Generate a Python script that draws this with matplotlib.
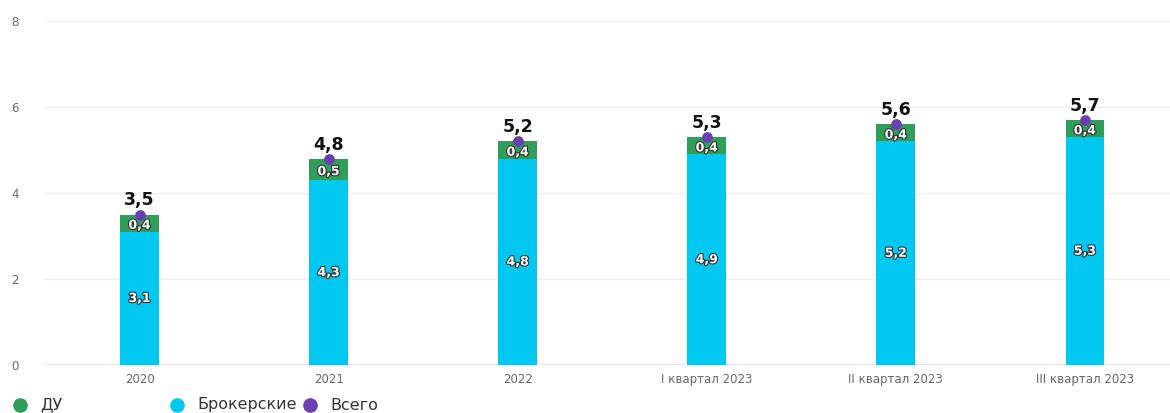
import numpy as np
import matplotlib
matplotlib.use("Agg")
import matplotlib.pyplot as plt
import matplotlib.patheffects as pe
from matplotlib.lines import Line2D

categories = ["2020", "2021", "2022", "I квартал 2023", "II квартал 2023", "III квартал 2023"]
broker = [3.1, 4.3, 4.8, 4.9, 5.2, 5.3]
du = [0.4, 0.5, 0.4, 0.4, 0.4, 0.4]
total = [3.5, 4.8, 5.2, 5.3, 5.6, 5.7]

C_BROKER = "#00c8f0"
C_DU = "#2e9e58"
C_TOTAL = "#6a3fb0"


def fmt(v):
    return f"{v:.1f}".replace(".", ",")


fig = plt.figure(figsize=(11.7, 4.13), dpi=100)
ax = fig.add_axes([0.0385, 0.116, 0.9615, 0.833])

x = np.arange(len(categories))
w = 0.205
ax.bar(x, broker, w, color=C_BROKER, zorder=2)
ax.bar(x, du, w, bottom=broker, color=C_DU, zorder=2)
ax.scatter(x, total, s=45, color=C_TOTAL, zorder=4)

outline = [pe.withStroke(linewidth=1.6, foreground="#333333")]
for xi, b, d, t in zip(x, broker, du, total):
    ax.text(xi, b / 2, fmt(b), ha="center", va="center", color="white",
            fontsize=9, fontweight="bold", path_effects=outline, zorder=5)
    ax.text(xi, b + d / 2 - 0.05, fmt(d), ha="center", va="center", color="white",
            fontsize=9, fontweight="bold", path_effects=outline, zorder=5)
    ax.text(xi, t + 0.12, fmt(t), ha="center", va="bottom", color="#111111",
            fontsize=12.5, fontweight="bold", zorder=5)

ax.set_xlim(-0.5, 5.45)
ax.set_ylim(0, 8)
ax.set_yticks([0, 2, 4, 6, 8])
ax.set_xticks(x)
ax.set_xticklabels(categories)
ax.tick_params(axis="both", length=0, colors="#666666", labelsize=8.5)
ax.tick_params(axis="y", pad=19)
ax.tick_params(axis="x", pad=6)
ax.grid(axis="y", color="#eeeeee", linewidth=1, zorder=0)
for s in ax.spines.values():
    s.set_visible(False)
ax.axhline(0, color="#d5dbe8", linewidth=1.2, zorder=1)

# legend drawn by hand: the gaps between entries are uneven in the original
legend_items = [("ДУ", C_DU, 20, 40), ("Брокерские", C_BROKER, 177, 197), ("Всего", C_TOTAL, 310, 330)]
ly = 1 - 405 / 413
for label, col, mx, tx in legend_items:
    fig.add_artist(Line2D([mx / 1170], [ly], marker="o", linestyle="", markersize=9.5,
                          color=col, transform=fig.transFigure))
    fig.text(tx / 1170, ly, label, ha="left", va="center", fontsize=11.5, color="#333333")

fig.savefig("out.png", dpi=100)
